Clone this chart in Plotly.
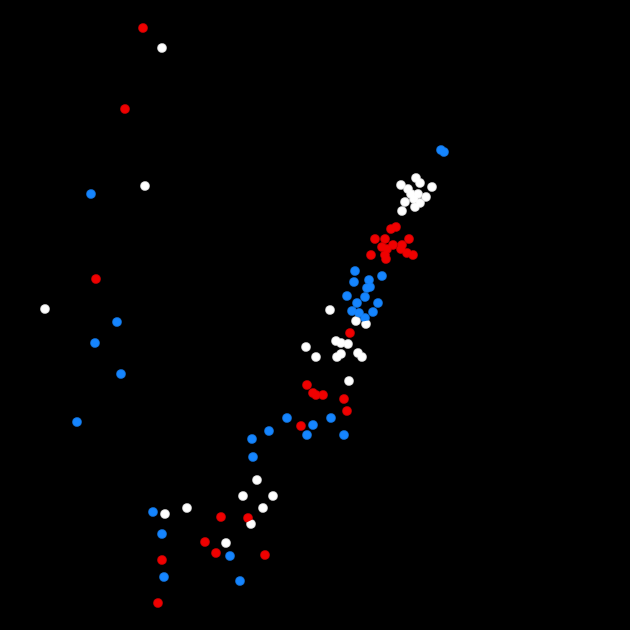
import numpy as np
import plotly.graph_objects as go

# positions (horizontal, vertical-from-top)
red_x = [143, 125, 96,
         391, 396, 375, 385, 409, 382, 393, 402, 387, 401, 371, 385, 386, 407, 413,
         350, 307, 313, 316, 323, 344, 347, 301,
         221, 248, 205, 216, 265, 162, 158]
red_y = [28, 109, 279,
         229, 227, 239, 239, 239, 247, 245, 245, 249, 249, 255, 255, 259, 253, 255,
         333, 385, 393, 395, 395, 399, 411, 426,
         517, 518, 542, 553, 555, 560, 603]

white_x = [162, 145, 45,
           416, 401, 420, 432, 408, 411, 418, 426, 405, 414, 415, 402, 420,
           330, 356, 366, 336, 341, 348, 306, 316, 337, 341, 358, 362, 349,
           165, 187, 243, 273, 257, 263, 251, 226]
white_y = [48, 186, 309,
           178, 185, 183, 187, 189, 194, 194, 197, 202, 199, 207, 211, 203,
           310, 321, 324, 341, 343, 344, 347, 357, 357, 354, 353, 357, 381,
           514, 508, 496, 496, 480, 508, 524, 543]

blue_x = [91, 117, 95, 121, 77,
          441, 444,
          355, 369, 354, 382, 367, 370, 347, 365, 357, 378, 352, 359, 373, 365,
          287, 331, 313, 269, 307, 344, 252, 253,
          153, 162, 164, 230, 240]
blue_y = [194, 322, 343, 374, 422,
          150, 152,
          271, 280, 282, 276, 288, 287, 296, 297, 303, 303, 311, 313, 312, 318,
          418, 418, 425, 431, 435, 435, 439, 457,
          512, 534, 577, 556, 581]

W = 630
R = 5.0
ASP = 2.0


def sphere_mesh(xs, ys, r, nlat=10, nlon=14):
    th = np.linspace(0, np.pi, nlat + 1)
    ph = np.linspace(0, 2 * np.pi, nlon, endpoint=False)
    T, P = np.meshgrid(th, ph, indexing="ij")
    ux = (np.sin(T) * np.cos(P)).ravel()
    uy = (np.sin(T) * np.sin(P)).ravel()
    uz = np.cos(T).ravel()
    faces = []
    for i in range(nlat):
        for j in range(nlon):
            a = i * nlon + j
            b = i * nlon + (j + 1) % nlon
            c = (i + 1) * nlon + j
            d = (i + 1) * nlon + (j + 1) % nlon
            if i > 0:
                faces.append((a, b, c))
            if i < nlat - 1:
                faces.append((b, d, c))
    faces = np.array(faces)
    nv = len(ux)
    X, Y, Z, I, J, K = [], [], [], [], [], []
    for n, (px, py) in enumerate(zip(xs, ys)):
        X.append(px + r * ux)
        Y.append((W - py) + r * uy)
        Z.append(r * uz)
        I.append(faces[:, 0] + n * nv)
        J.append(faces[:, 1] + n * nv)
        K.append(faces[:, 2] + n * nv)
    return (np.concatenate(X), np.concatenate(Y), np.concatenate(Z),
            np.concatenate(I), np.concatenate(J), np.concatenate(K))


fig = go.Figure()
for xs, ys, col in [(red_x, red_y, "#f00000"), (white_x, white_y, "#ffffff"),
                    (blue_x, blue_y, "#1585ff")]:
    X, Y, Z, I, J, K = sphere_mesh(xs, ys, R)
    fig.add_trace(go.Mesh3d(
        x=X, y=Y, z=Z, i=I, j=J, k=K, color=col, flatshading=False,
        lighting=dict(ambient=0.5, diffuse=0.7, specular=0.3, roughness=0.3, fresnel=0.1),
        lightposition=dict(x=-1000, y=1000, z=-3000),
        hoverinfo="skip", showscale=False))

ax = dict(visible=False, showbackground=False, showgrid=False, zeroline=False,
          showspikes=False)
fig.update_layout(
    width=630, height=630, margin=dict(l=0, r=0, t=0, b=0),
    paper_bgcolor="black", plot_bgcolor="black", showlegend=False,
    scene=dict(
        domain=dict(x=[0, 1], y=[0, 1]),
        bgcolor="black",
        xaxis=dict(range=[0, W], **ax),
        yaxis=dict(range=[0, W], **ax),
        zaxis=dict(range=[-W / 2, W / 2], **ax),
        aspectmode="manual", aspectratio=dict(x=ASP, y=ASP, z=ASP),
        camera=dict(eye=dict(x=0, y=0, z=2), up=dict(x=0, y=1, z=0),
                    center=dict(x=0, y=0, z=0),
                    projection=dict(type="orthographic")),
    ),
)
fig.write_html("out.html")
